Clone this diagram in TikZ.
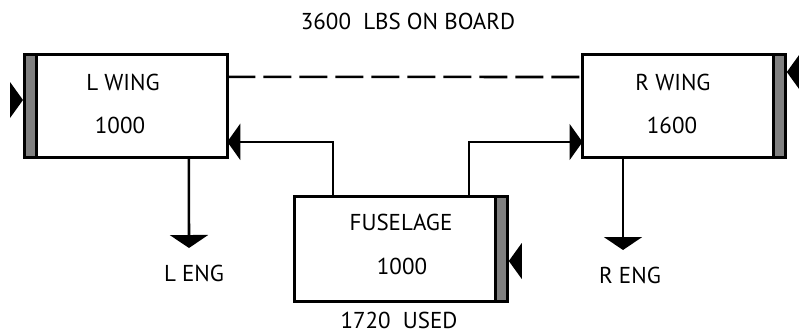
\documentclass[tikz,border=0pt]{standalone}
\usepackage{fontspec}
\setmainfont{PT Sans}
\usepackage{tikz}
\usetikzlibrary{arrows.meta, positioning, calc}
\definecolor{barGray}{RGB}{128, 128, 128}
\definecolor{inkBlack}{RGB}{0, 0, 0}

\tikzset{
  tankbox/.style={draw=inkBlack, line width=2.6pt, fill=white, minimum width=203pt, minimum height=103pt, inner sep=0pt, outer sep=0pt},
  tankbar/.style={draw=inkBlack, line width=2.6pt, fill=barGray},
  tanktext/.style={inner sep=0pt, font=\fontsize{23}{27}\selectfont, text=inkBlack},
  feedline/.style={draw=inkBlack, line width=2.6pt, -{Triangle[length=13pt, width=36pt]}},
  engline/.style={draw=inkBlack, line width=2.6pt, -{Triangle[length=13pt, width=38pt]}},
  inflow/.style={fill=inkBlack},
  xferline/.style={draw=inkBlack, line width=2.6pt, dash pattern=on 28pt off 8pt}
}

\begin{document}
\begin{tikzpicture}[x=1pt, y=-1pt]
  \useasboundingbox (0,0) rectangle (799,333);

  % Totals
  \node[tanktext] (onboard) at (408,21) {3600\ \ LBS ON BOARD};
  \node[tanktext] (used) at (399,320) {1720\ \ USED};

  % Wing and fuselage tanks
  \node[tankbox] (lwing) at (125.8,105.8) {};
  \node[tankbox] (rwing) at (684,106) {};
  \node[tankbox, minimum width=213pt, minimum height=105pt] (fuse) at (401,249) {};

  % Gray sides
  \draw[tankbar] (lwing.north west) rectangle ($(lwing.south west)+(12,0)$);
  \draw[tankbar] ($(rwing.north east)+(-12,0)$) rectangle (rwing.south east);
  \draw[tankbar] ($(fuse.north east)+(-12,0)$) rectangle (fuse.south east);

  % Tank texts
  \node[tanktext] (lwingname) at (123,82) {L WING};
  \node[tanktext] (lwingqty) at (120,125) {1000};
  \node[tanktext] (rwingname) at (673,82) {R WING};
  \node[tanktext] (rwingqty) at (672,125) {1600};
  \node[tanktext] (fusename) at (401,222) {FUSELAGE};
  \node[tanktext] (fuseqty) at (402,266) {1000};

  % Engines
  \node[tanktext] (leng) at (194,273) {L ENG};
  \node[tanktext] (reng) at (630,275) {R ENG};
  \coordinate (lengtip) at (189,248);
  \coordinate (rengtip) at (623,250);
  \draw[engline] ([xshift=63pt]lwing.south) -- (lengtip);
  \draw[engline] ([xshift=-61pt]rwing.south) -- (rengtip);

  % Crossfeed
  \draw[xferline] ([yshift=29pt]lwing.east) -- ([yshift=29pt]rwing.west);

  % Fuselage transfers
  \draw[feedline] ([xshift=-68pt]fuse.north) |- ([yshift=-36pt]lwing.east);
  \draw[feedline] ([xshift=68pt]fuse.north) |- ([yshift=-36pt]rwing.west);

  % Fill points
  \coordinate (lfill) at ($(lwing.west)+(-1.3,-5.8)$);
  \coordinate (rfill) at ($(rwing.east)+(1.3,-34)$);
  \coordinate (ffill) at ($(fuse.east)+(1.3,12)$);
  \fill[inflow] (lfill) -- ++(-13,-18) -- ++(0,36) -- cycle;
  \fill[inflow] (rfill) -- ++(13,-18) -- ++(0,36) -- cycle;
  \fill[inflow] (ffill) -- ++(13,-18) -- ++(0,36) -- cycle;
\end{tikzpicture}
\end{document}
